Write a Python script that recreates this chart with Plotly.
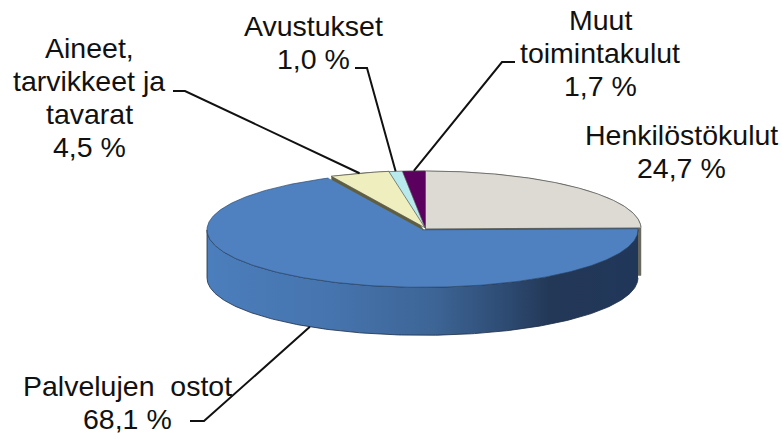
import numpy as np
import plotly.graph_objects as go

# --- data ---
categories = ["Henkilöstökulut", "Palvelujen  ostot", "Aineet,<br>tarvikkeet ja<br>tavarat", "Avustukset", "Muut<br>toimintakulut"]
values = [24.7, 68.1, 4.5, 1.0, 1.7]

# --- styles ---
top_colors = ["#dcdad3", "#4f81c0", "#eeeebf", "#b8e9ec", "#5c0060"]
wall_colors = ["#66665c", None, "#5f5f3f", None, None]
wall_depth = [48, 0, 5, 0, 0]
side_scale = [[0, "#4b7ebc"], [0.28, "#4674ae"], [0.52, "#3d6596"], [0.68, "#2e4c74"], [0.79, "#233857"], [1, "#21375a"]]
CX, CY, RX, RY, DEPTH = 425, 229, 215.5, 57.5, 48
offsets = [(0.5, -0.5), (-2.5, 0.8), (0.5, -1), (0.3, -0.7), (0.3, -0.7)]
FONT = dict(family="Liberation Sans, Arial, sans-serif", size=28.5, color="#111111")
LINE_STEP = 33

label_first_line = [(681, 135), (127, 386), (89, 48), (313, 26), (600, 20)]
leader_elbows = [None, [(190, 421), (204, 421)], [(173, 91), (185, 91)], [(355, 68), (367, 68)], [(515, 62), (502, 62)]]

# --- geometry from the values ---
total = sum(values)
edges = np.concatenate([[0], np.cumsum(values)]) / total * 2 * np.pi


def point(a, dx=0.0, dy=0.0, depth=0.0):
    return CX + dx + RX * np.sin(a), CY + dy + depth - RY * np.cos(a)


fig = go.Figure()


def add_poly(xs, ys, color, line_color, width=0.7):
    fig.add_trace(go.Scatter(x=list(xs), y=list(ys), mode="lines", fill="toself", fillcolor=color,
                             line=dict(color=line_color, width=width), hoverinfo="skip", showlegend=False))


slices = []
for i, v in enumerate(values):
    a0, a1 = edges[i], edges[i + 1]
    dx, dy = offsets[i]
    slices.append((i, a0, a1, (a0 + a1) / 2, dx, dy))

# walls of the slices that show behind the blue top
for i, a0, a1, mid, dx, dy in slices:
    if wall_colors[i] is None:
        continue
    d = wall_depth[i]
    t = np.linspace(a0, a1, 80)
    xt, yt = point(t, dx, dy)
    xb, yb = point(a1, dx, dy, d)
    xf, yf = point(a0, dx, dy, d)
    add_poly(list(xt) + [xb, CX + dx, xf], list(yt) + [yb, CY + dy + d, yf], wall_colors[i], wall_colors[i], 0.5)

# blue front wall with its horizontal shading
i, a0, a1, mid, dx, dy = slices[1]
t = np.linspace(max(a0, np.pi / 2), min(a1, 3 * np.pi / 2), 240)
xt, yt = point(t, dx, dy)
xb, yb = point(t[::-1], dx, dy, DEPTH)
fig.add_trace(go.Scatter(x=list(xt) + list(xb), y=list(yt) + list(yb), mode="lines", fill="toself",
                         fillgradient=dict(type="horizontal", colorscale=side_scale, start=CX - RX, stop=CX + RX),
                         line=dict(color="#1c2c44", width=0.8), hoverinfo="skip", showlegend=False))

# top faces
for i, a0, a1, mid, dx, dy in slices:
    t = np.linspace(a0, a1, 300)
    xt, yt = point(t, dx, dy)
    add_poly([CX + dx] + list(xt), [CY + dy] + list(yt), top_colors[i], "#555555" if i != 1 else "#2c4a70", 0.7)

# leader lines: from the slice's edge at its middle angle to the label
for i, a0, a1, mid, dx, dy in slices:
    elbow = leader_elbows[i]
    if elbow is None:
        continue
    depth = DEPTH if np.pi / 2 < mid < 3 * np.pi / 2 else 0
    ax, ay = point(mid, dx, dy, depth)
    fig.add_trace(go.Scatter(x=[elbow[0][0], elbow[1][0], ax], y=[elbow[0][1], elbow[1][1], ay], mode="lines",
                             line=dict(color="#111111", width=2), hoverinfo="skip", showlegend=False))

# labels, line by line
for name, v, (lx, ly) in zip(categories, values, label_first_line):
    lines = name.split("<br>") + [f"{v:.1f} %".replace(".", ",")]
    for k, text in enumerate(lines):
        fig.add_annotation(x=lx, y=ly + k * LINE_STEP, text=text, showarrow=False,
                           font=FONT, align="center", xanchor="center", yanchor="middle")

fig.update_layout(width=782, height=439, margin=dict(l=0, r=0, t=0, b=0), paper_bgcolor="white",
                  plot_bgcolor="white", showlegend=False,
                  xaxis=dict(range=[0, 782], visible=False, fixedrange=True),
                  yaxis=dict(range=[439, 0], visible=False, fixedrange=True))
fig.write_html("out.html", config=dict(displayModeBar=False),
               post_script="document.body.style.margin='0';document.body.style.overflow='hidden';")
